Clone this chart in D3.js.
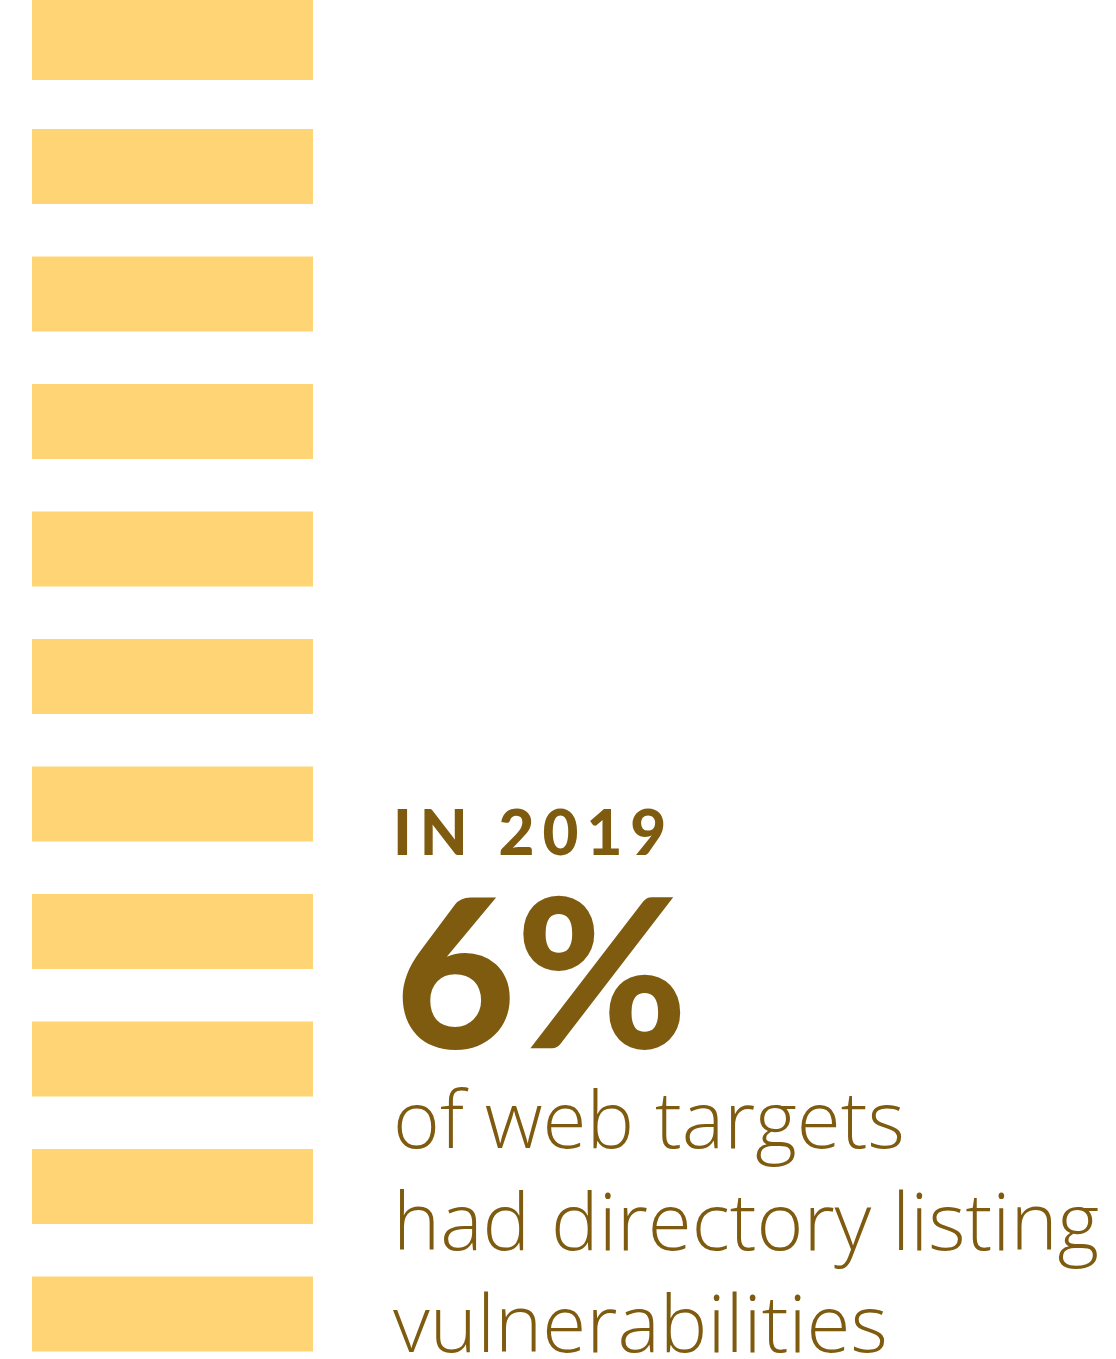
<!DOCTYPE html>
<html>
<head>
<meta charset="utf-8">
<script src="https://cdn.jsdelivr.net/npm/d3@7"></script>
<style>
  html, body { margin: 0; padding: 0; background: #ffffff; }
  svg { display: block; }
</style>
</head>
<body>
<div id="chart"></div>
<script>
// Pictogram rows: each stripe stands for one unit of the stack
const rows = ["r1", "r2", "r3", "r4", "r5", "r6", "r7", "r8", "r9", "r10", "r11"];
const rowValues = [1, 1, 1, 1, 1, 1, 1, 1, 1, 1, 1];

// Headline texts
const yearLabel = "IN 2019";
const statValue = 6;
const statLines = ["of web targets", "had directory listing", "vulnerabilities"];

const W = 1116, H = 1359;
const barColor = "#fed474";
const inkColor = "#7f5b10";

const svg = d3.select("#chart").append("svg")
  .attr("width", W).attr("height", H);

// stripes: 75px thick on a 127.5px pitch
const y = d3.scaleBand()
  .domain(rows)
  .range([1.5, 1.5 + 127.5 * (rows.length - 1) + 75])
  .paddingInner(52.5 / 127.5)
  .paddingOuter(0)
  .align(0);

const x = d3.scaleLinear().domain([0, 1]).range([32, 313]);

svg.append("g").selectAll("rect")
  .data(rows.map((r, i) => ({ row: r, value: rowValues[i], i })))
  .join("rect")
  .attr("x", x(0))
  .attr("y", d => d.i === 0 ? 0 : y(d.row))
  .attr("width", d => x(d.value) - x(0))
  .attr("height", d => d.i === 0 ? y(d.row) + y.bandwidth() + 3.5 : y.bandwidth())
  .attr("fill", barColor);

const tx = 393;

svg.append("text")
  .attr("x", tx)
  .attr("y", 855)
  .attr("fill", inkColor)
  .style("font-family", "Lato, 'DejaVu Sans', sans-serif")
  .style("font-weight", 900)
  .style("font-size", "62px")
  .style("letter-spacing", "8px")
  .text(yearLabel);

svg.append("text")
  .attr("x", tx + 2)
  .attr("y", 1048)
  .attr("fill", inkColor)
  .style("font-family", "Lato, 'DejaVu Sans', sans-serif")
  .style("font-weight", 900)
  .style("font-size", "208px")
  .text(d3.format("d")(statValue) + "%");

svg.append("g").selectAll("text")
  .data(statLines)
  .join("text")
  .attr("x", tx)
  .attr("y", (d, i) => 1148 + i * 102)
  .attr("fill", inkColor)
  .style("font-family", "'Open Sans', sans-serif")
  .style("font-weight", 300)
  .style("font-size", "80px")
  .text(d => d);
</script>
</body>
</html>
